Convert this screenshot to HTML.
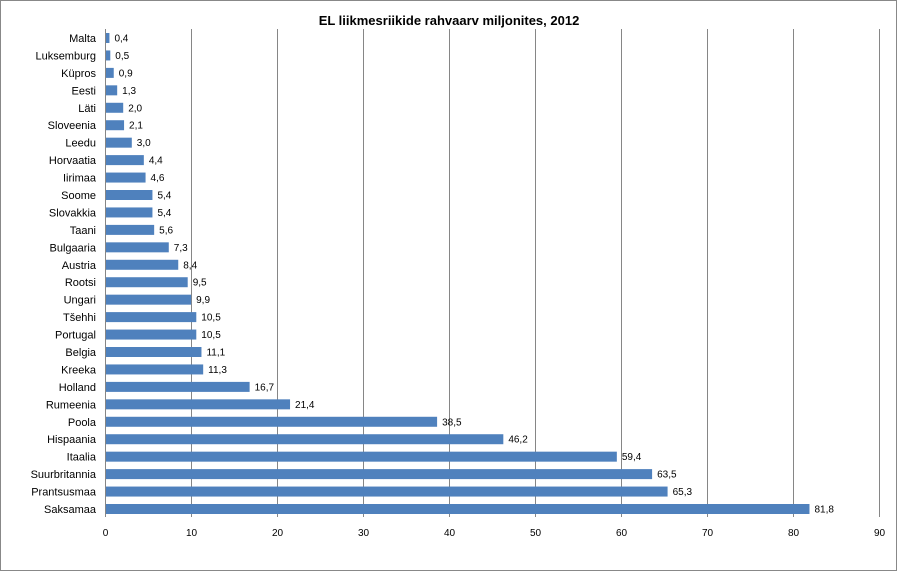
<!DOCTYPE html>
<html><head><meta charset="utf-8"><style>
body{margin:0;background:#fff}
svg{display:block;font-family:"Liberation Sans",sans-serif}
</style></head><body>
<svg width="898" height="572" xmlns="http://www.w3.org/2000/svg">
<rect x="0.5" y="0.5" width="896" height="570" fill="#fff" stroke="#888"/>
<text x="449" y="25" text-anchor="middle" font-size="13" font-weight="bold" fill="#000">EL  liikmesriikide rahvaarv miljonites, 2012</text>
<g id="g"></g>
</svg>
<script>
(function(){
const d=[["Malta",0.4],["Luksemburg",0.5],["Küpros",0.9],["Eesti",1.3],["Läti",2.0],["Sloveenia",2.1],["Leedu",3.0],["Horvaatia",4.4],["Iirimaa",4.6],["Soome",5.4],["Slovakkia",5.4],["Taani",5.6],["Bulgaaria",7.3],["Austria",8.4],["Rootsi",9.5],["Ungari",9.9],["Tšehhi",10.5],["Portugal",10.5],["Belgia",11.1],["Kreeka",11.3],["Holland",16.7],["Rumeenia",21.4],["Poola",38.5],["Hispaania",46.2],["Itaalia",59.4],["Suurbritannia",63.5],["Prantsusmaa",65.3],["Saksamaa",81.8]];
let s="";const x0=105,k=8.6,yt=29,yb=517;
for(let i=0;i<=9;i++){const x=x0+i*86;s+=`<line x1="${x+0.5}" y1="${yt}" x2="${x+0.5}" y2="${yb}" stroke="#868686"/>`;s+=`<text x="${x+0.5}" y="536" text-anchor="middle" font-size="10" fill="#000">${i*10}</text>`;}
const step=(509-38)/27;
d.forEach((r,i)=>{const c=38+i*step;
s+=`<rect x="${x0+1}" y="${c-5}" width="${r[1]*k}" height="10" fill="#4f81bd"/>`;
s+=`<text x="96" y="${c+4}" text-anchor="end" font-size="11" fill="#000">${r[0]}</text>`;
s+=`<text x="${x0+1+r[1]*k+5}" y="${c+3.5}" font-size="10" fill="#000">${r[1].toFixed(1).replace('.',',')}</text>`;});
document.getElementById("g").innerHTML=s;
})();
</script>
</body></html>
